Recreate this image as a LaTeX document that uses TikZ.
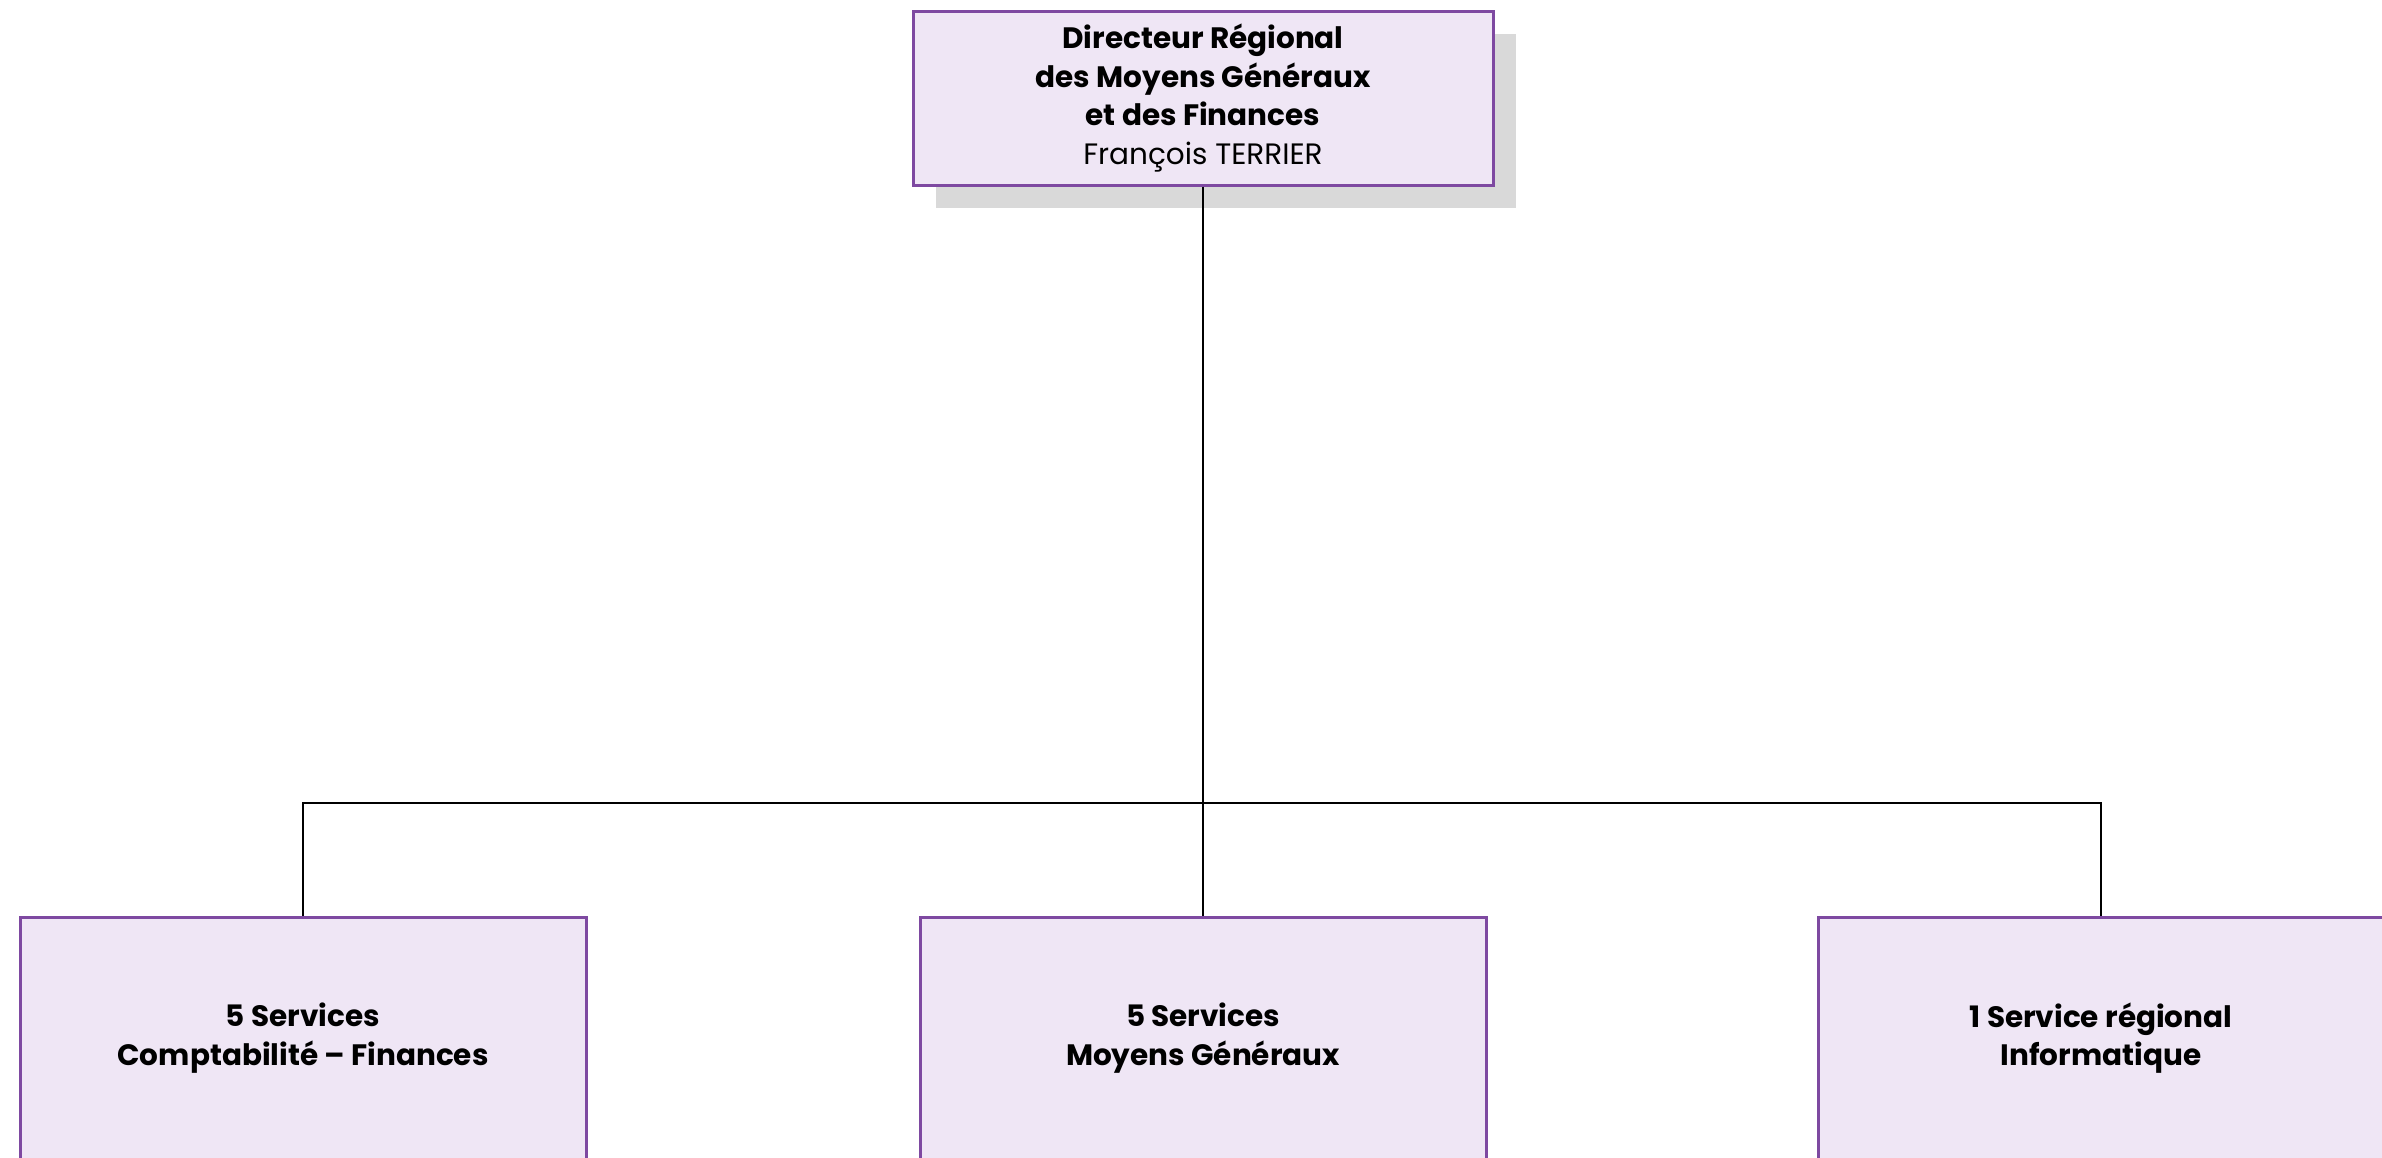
\documentclass[tikz,border=0pt]{standalone}
\usepackage{fontspec}
\setmainfont{Poppins}
\usetikzlibrary{shadows}
\definecolor{boxfill}{HTML}{EFE6F5}
\definecolor{boxline}{HTML}{7E49A1}
\definecolor{shadegray}{HTML}{D9D9D9}
\begin{document}
\begin{tikzpicture}[x=1pt,y=-1pt,
  orgbox/.style={draw=boxline, line width=3pt, fill=boxfill, align=center,
    inner sep=0pt, font=\fontsize{29.5}{38.5}\selectfont},
  topbox/.style={orgbox, minimum width=580pt, minimum height=174pt,
    drop shadow={shadow xshift=23pt, shadow yshift=-23pt, fill=shadegray, opacity=1}},
  subbox/.style={orgbox, minimum width=566pt, minimum height=242pt},
  link/.style={draw=black, line width=2pt}]
\useasboundingbox (0,0) rectangle (2382,1157);
\clip (0,0) rectangle (2382,1157);
\node[topbox] (dir) at (1203,98)
  {\textbf{Directeur Régional}\\\textbf{des Moyens Généraux}\\\textbf{et des Finances}\\François TERRIER};
\node[subbox] (compta) at (303,1038) {\textbf{5 Services}\\\textbf{Comptabilité – Finances}};
\node[subbox] (moyens) at (1203,1038) {\textbf{5 Services}\\\textbf{Moyens Généraux}};
\node[subbox] (info) at (2101,1038) {\textbf{1 Service régional}\\\textbf{Informatique}};
\coordinate (hub) at (1203,803);
\draw[link] (dir.south) -- (hub);
\draw[link] (compta.north) |- (hub) -| (info.north);
\draw[link] (hub) -- (moyens.north);
\end{tikzpicture}
\end{document}
